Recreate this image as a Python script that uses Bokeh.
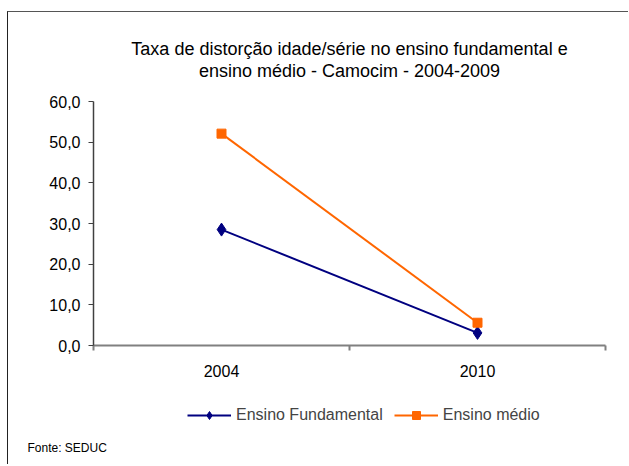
from bokeh.plotting import figure
from bokeh.layouts import column
from bokeh.models import (FixedTicker, Range1d, Legend, LegendItem, Label)
from bokeh.embed import file_html
from bokeh.resources import INLINE

# ---- data ----
categories = ["2004", "2010"]
cat_pos = [0.5, 1.5]
fundamental = [28.5, 3.1]
medio = [52.1, 5.6]
y_ticks = [0, 10, 20, 30, 40, 50, 60]
y_labels = ["0,0", "10,0", "20,0", "30,0", "40,0", "50,0", "60,0"]
title_lines = ["Taxa de distorção idade/série no ensino fundamental e",
               "ensino médio - Camocim - 2004-2009"]
source_text = "Fonte: SEDUC"
series_names = ["Ensino Fundamental", "Ensino médio"]
series_colors = ["#000080", "#FF6600"]

FONT = "Liberation Sans"
W = 620
# content origin sits at page (8, 12) because of the margin + border
OX, OY = 8, 12
HT, HP, HQ = 76, 294, 82


def strip(h):
    f = figure(width=W, height=h, output_backend="svg", toolbar_location=None,
               x_range=Range1d(100, 101), y_range=Range1d(100, 101),
               x_axis_type=None, y_axis_type=None, min_border=0)
    f.outline_line_color = None
    f.grid.visible = False
    f.border_fill_color = "white"
    f.background_fill_color = "white"
    f.frame_align = False
    return f


# ---- title strip ----
t = strip(HT)
for i, txt in enumerate(title_lines):
    t.add_layout(Label(x=349 - OX, y=HT - (48 + i * 22 - OY), x_units="screen", y_units="screen",
                       text=txt, text_align="center", text_baseline="middle",
                       text_font=FONT, text_font_size="18px", text_font_style="normal",
                       text_color="black"))

# ---- main plot ----
top_p = OY + HT
FL, FT, FR, FB = 93 - OX, 101 - top_p, 605 - OX, 345 - top_p
p = figure(width=W, height=HP, output_backend="svg", toolbar_location=None,
           x_range=Range1d(0, 2), y_range=Range1d(0, 60),
           min_border_left=FL, min_border_right=W - FR, min_border_top=FT,
           min_border_bottom=HP - FB)
p.outline_line_color = None
p.grid.visible = False
p.background_fill_color = "white"
p.border_fill_color = "white"
p.frame_align = False

xa = p.xaxis[0]
xa.ticker = FixedTicker(ticks=cat_pos, minor_ticks=[0, 1, 2])
xa.major_label_overrides = {v: c for v, c in zip(cat_pos, categories)}
xa.major_tick_line_color = None
xa.major_tick_out = 0
xa.major_tick_in = 0
xa.minor_tick_out = 5
xa.minor_tick_in = 0
xa.minor_tick_line_color = "#808080"
xa.minor_tick_line_width = 2
xa.axis_line_color = "#808080"
xa.axis_line_width = 2
xa.major_label_standoff = 14
xa.major_label_text_font = FONT
xa.major_label_text_font_size = "16px"
xa.major_label_text_color = "black"

ya = p.yaxis[0]
ya.ticker = FixedTicker(ticks=y_ticks, minor_ticks=[])
ya.major_label_overrides = {v: l for v, l in zip(y_ticks, y_labels)}
ya.major_tick_out = 5
ya.major_tick_in = 0
ya.major_tick_line_color = "#404040"
ya.axis_line_color = "#404040"
ya.axis_line_width = 1.5
ya.major_label_standoff = 8
ya.major_label_text_font = FONT
ya.major_label_text_font_size = "16px"
ya.major_label_text_color = "black"

p.line(cat_pos, fundamental, line_color=series_colors[0], line_width=2)
p.scatter(cat_pos, fundamental, marker="diamond", size=13,
          fill_color=series_colors[0], line_color=series_colors[0])
p.line(cat_pos, medio, line_color=series_colors[1], line_width=2)
p.scatter(cat_pos, medio, marker="square", size=9,
          fill_color=series_colors[1], line_color=series_colors[1])

# ---- lower strip: legend + source ----
q = strip(HQ)
top_q = top_p + HP
ql1 = q.line(cat_pos, fundamental, line_color=series_colors[0], line_width=2)
qs1 = q.scatter(cat_pos, fundamental, marker="diamond", size=13,
                fill_color=series_colors[0], line_color=series_colors[0])
ql2 = q.line(cat_pos, medio, line_color=series_colors[1], line_width=2)
qs2 = q.scatter(cat_pos, medio, marker="square", size=9,
                fill_color=series_colors[1], line_color=series_colors[1])

legend = Legend(items=[LegendItem(label=series_names[0], renderers=[ql1, qs1]),
                       LegendItem(label=series_names[1], renderers=[ql2, qs2])],
                orientation="horizontal",
                location=(187 - OX, HQ - (411 - top_q) - 14),
                glyph_width=44, glyph_height=20, label_standoff=5, spacing=11,
                label_text_font=FONT, label_text_font_size="16px",
                border_line_color=None, background_fill_alpha=0,
                padding=4, margin=0)
q.add_layout(legend)

q.add_layout(Label(x=27 - OX, y=HQ - (447 - top_q), x_units="screen", y_units="screen",
                   text=source_text, text_baseline="middle", text_font=FONT,
                   text_font_size="12px", text_color="black"))

layout = column(t, p, q, spacing=0,
                styles={"margin-left": "7px", "margin-top": "11px",
                        "border-left": "1px solid #222222",
                        "border-top": "1px solid #555555"})
open("out.html", "w").write(file_html(layout, INLINE))
